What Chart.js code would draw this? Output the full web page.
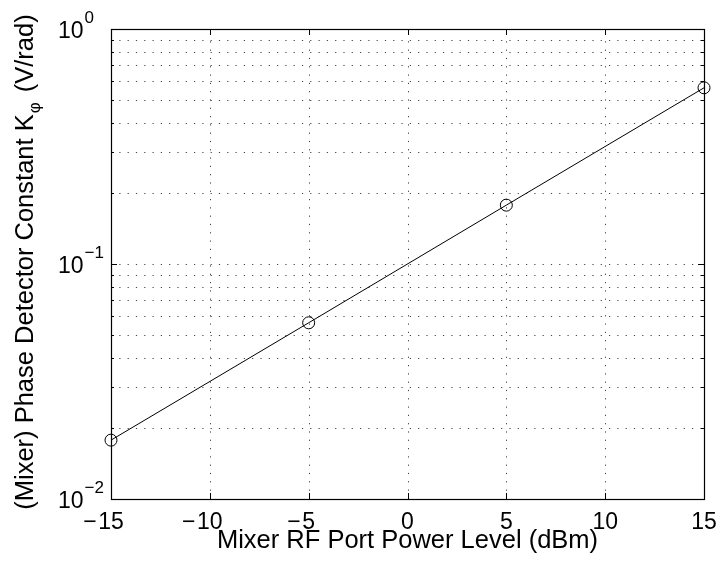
<!DOCTYPE html>
<html>
<head>
<meta charset="utf-8">
<script src="https://cdn.jsdelivr.net/npm/chart.js@4/dist/chart.umd.min.js"></script>
<style>
  html, body { margin: 0; padding: 0; background: #fff; }
  #wrap { width: 720px; height: 561px; position: relative; }
</style>
</head>
<body>
<div id="wrap"><canvas id="kphi"></canvas></div>
<script>
// values
const powerLevels = [-15, -5, 5, 15];           // dBm
const kPhi = [0.0178, 0.0562, 0.178, 0.562];     // V/rad

const xTicks = [-15, -10, -5, 0, 5, 10, 15];
const yDecades = [-2, -1, 0];                    // 10^-2 .. 10^0
const yMinor = [2, 3, 4, 5, 6, 7, 8, 9];

const xTitle = 'Mixer RF Port Power Level (dBm)';
const yTitleMain = '(Mixer) Phase Detector Constant K';
const yTitleSub = 'φ';
const yTitleEnd = ' (V/rad)';

const FONT = '"Liberation Sans", Arial, Helvetica, sans-serif';

const matlabAxes = {
  id: 'matlabAxes',
  beforeDatasetsDraw(chart) {
    const { ctx, chartArea: a, scales: { x, y } } = chart;
    ctx.save();
    // dotted grid
    ctx.strokeStyle = '#444';
    ctx.lineWidth = 1;
    ctx.setLineDash([1.2, 7.1]);
    xTicks.forEach(v => {
      const px = Math.round(x.getPixelForValue(v)) + 0.5;
      if (px < a.left + 2 || px > a.right - 2) return;
      ctx.beginPath(); ctx.moveTo(px, a.bottom); ctx.lineTo(px, a.top); ctx.stroke();
    });
    const yLines = [];
    yDecades.forEach(e => {
      yLines.push(Math.pow(10, e));
      if (e < yDecades[yDecades.length - 1]) yMinor.forEach(m => yLines.push(m * Math.pow(10, e)));
    });
    yLines.forEach(v => {
      const py = Math.round(y.getPixelForValue(v)) + 0.5;
      if (py < a.top + 2 || py > a.bottom - 2) return;
      ctx.beginPath(); ctx.moveTo(a.left, py); ctx.lineTo(a.right, py); ctx.stroke();
    });
    ctx.setLineDash([]);
    // inward tick marks
    ctx.strokeStyle = '#000';
    xTicks.forEach(v => {
      const px = Math.round(x.getPixelForValue(v)) + 0.5;
      ctx.beginPath();
      ctx.moveTo(px, a.bottom); ctx.lineTo(px, a.bottom - 6);
      ctx.moveTo(px, a.top); ctx.lineTo(px, a.top + 6);
      ctx.stroke();
    });
    yLines.forEach(v => {
      const py = Math.round(y.getPixelForValue(v)) + 0.5;
      const major = Math.abs(Math.log10(v) - Math.round(Math.log10(v))) < 1e-9;
      const len = major ? 6 : 3;
      ctx.beginPath();
      ctx.moveTo(a.left, py); ctx.lineTo(a.left + len, py);
      ctx.moveTo(a.right, py); ctx.lineTo(a.right - len, py);
      ctx.stroke();
    });
    // box
    ctx.lineWidth = 1.2;
    ctx.strokeRect(Math.round(a.left) + 0.5, Math.round(a.top) + 0.5,
      Math.round(a.right - a.left), Math.round(a.bottom - a.top));
    ctx.restore();
  },
  afterDraw(chart) {
    const { ctx, chartArea: a, scales: { x, y } } = chart;
    ctx.save();
    ctx.fillStyle = '#000';
    ctx.textBaseline = 'alphabetic';

    // x tick labels: digits centred, minus hanging left
    ctx.font = '23px ' + FONT;
    xTicks.forEach(v => {
      const px = x.getPixelForValue(v);
      const digits = String(Math.abs(v));
      const w = ctx.measureText(digits).width;
      ctx.textAlign = 'center';
      ctx.fillText(digits, px, a.bottom + 30);
      if (v < 0) {
        ctx.textAlign = 'right';
        ctx.fillText('\u2212', px - w / 2 - 1.5, a.bottom + 30);
      }
    });

    // y tick labels 10^n
    yDecades.forEach(e => {
      const py = y.getPixelForValue(Math.pow(10, e));
      ctx.textAlign = 'left';
      ctx.font = '23px ' + FONT;
      ctx.fillText('10', 58, py + 9);
      const w = ctx.measureText('10').width;
      ctx.font = '17px ' + FONT;
      ctx.fillText(e < 0 ? '\u2212' + Math.abs(e) : String(e), 58 + w + 1, py - 6);
    });

    // x title
    ctx.font = '25.5px ' + FONT;
    ctx.textAlign = 'center';
    ctx.fillText(xTitle, (a.left + a.right) / 2, a.bottom + 49);

    // y title with subscript phi
    ctx.translate(33, (a.top + a.bottom) / 2 - 2);
    ctx.rotate(-Math.PI / 2);
    ctx.textAlign = 'left';
    ctx.font = '25.5px ' + FONT;
    const w1 = ctx.measureText(yTitleMain).width;
    const w3 = ctx.measureText(yTitleEnd).width;
    ctx.font = '17px ' + FONT;
    const w2 = ctx.measureText(yTitleSub).width + 4;
    let cx = -(w1 + w2 + w3) / 2;
    ctx.font = '25.5px ' + FONT;
    ctx.fillText(yTitleMain, cx, 0);
    cx += w1 + 1;
    ctx.font = '17px ' + FONT;
    ctx.fillText(yTitleSub, cx, 7);
    cx += w2 - 1;
    ctx.font = '25.5px ' + FONT;
    ctx.fillText(yTitleEnd, cx, 0);
    ctx.restore();
  }
};

new Chart(document.getElementById('kphi'), {
  type: 'line',
  data: {
    datasets: [{
      data: powerLevels.map((p, i) => ({ x: p, y: kPhi[i] })),
      borderColor: '#000',
      borderWidth: 1,
      backgroundColor: 'rgba(0,0,0,0)',
      pointStyle: 'circle',
      pointRadius: 6,
      pointBorderWidth: 1,
      pointBorderColor: '#000',
      pointBackgroundColor: 'rgba(0,0,0,0)',
      tension: 0,
      fill: false,
      clip: false
    }]
  },
  options: {
    responsive: true,
    maintainAspectRatio: false,
    animation: false,
    layout: { padding: { top: 29, right: 16, left: 0, bottom: 0 } },
    plugins: { legend: { display: false }, tooltip: { enabled: false } },
    scales: {
      x: {
        type: 'linear',
        min: -15,
        max: 15,
        grid: { display: false },
        border: { display: false },
        ticks: { display: false, stepSize: 5 },
        afterFit(scale) { scale.height = 62; }
      },
      y: {
        type: 'logarithmic',
        min: 0.01,
        max: 1,
        grid: { display: false },
        border: { display: false },
        ticks: { display: false },
        afterFit(scale) { scale.width = 111; }
      }
    }
  },
  plugins: [matlabAxes]
});
</script>
</body>
</html>
